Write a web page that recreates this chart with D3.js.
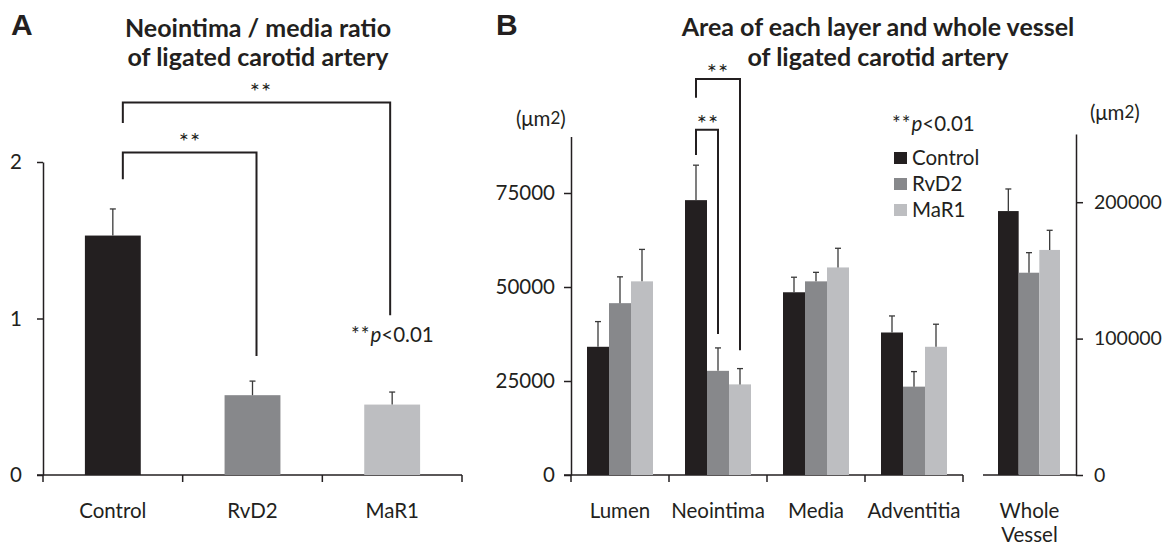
<!DOCTYPE html>
<html>
<head>
<meta charset="utf-8">
<script src="https://cdn.jsdelivr.net/npm/d3@7"></script>
<style>
body { margin: 0; background: #fff; }
svg text { font-family: Lato, "Open Sans", sans-serif; fill: #231f20; }
.panel-letter { font-family: "Liberation Sans", Arial, sans-serif; font-weight: bold; font-size: 30px; }
.title { font-weight: bold; font-size: 25px; }
.lbl { font-size: 20.5px; }
</style>
</head>
<body>
<svg id="chart" width="1163" height="547"></svg>
<script>
// data -- panel A
var ratio_groups = ["Control", "RvD2", "MaR1"];
var ratio_mean = [1.53, 0.51, 0.45];
var ratio_err = [0.17, 0.09, 0.08];
var ratio_ticks = [0, 1, 2];

// data -- panel B
var layers = ["Lumen", "Neointima", "Media", "Adventitia"];
var series = ["Control", "RvD2", "MaR1"];
var control_area = [34100, 73100, 48600, 37900];
var rvd2_area = [45700, 27700, 51500, 23500];
var mar1_area = [51500, 24100, 55200, 34100];
var control_err = [6700, 9300, 4000, 4400];
var rvd2_err = [7000, 6100, 2400, 4000];
var mar1_err = [8500, 4200, 5100, 6000];
var layer_ticks = [0, 25000, 50000, 75000];

var vessel_mean = [193500, 148300, 165000];
var vessel_err = [16200, 14700, 14400];
var vessel_ticks = [0, 100000, 200000];

var COLORS = ["#231f20", "#87888b", "#bdbec1"];
var INK = "#231f20";
var fmt = d3.format("d");

var svg = d3.select("#chart");

function err_bar(g, cx, y_top, y_err)
{
	g.append("line").attr("x1", cx).attr("x2", cx).attr("y1", y_top).attr("y2", y_err)
		.attr("stroke", "#3a3a3a").attr("stroke-width", 1.3);
	g.append("line").attr("x1", cx - 3).attr("x2", cx + 3).attr("y1", y_err).attr("y2", y_err)
		.attr("stroke", "#3a3a3a").attr("stroke-width", 1.3);
}

function stars(g, x, y)
{
	g.append("text").attr("class", "lbl").attr("x", x).attr("y", y)
		.attr("text-anchor", "middle").style("font-size", "24px").style("letter-spacing", "1px")
		.text("**");
}

function p_note(g, x, y)
{
	var t = g.append("text").attr("class", "lbl").attr("x", x).attr("y", y);
	t.append("tspan").style("letter-spacing", "1px").text("**");
	t.append("tspan").style("font-style", "italic").text("p");
	t.append("tspan").text("<0.01");
}

function bracket(g, x1, x2, y, y1_end, y2_end)
{
	g.append("path")
		.attr("d", "M" + x1 + "," + y1_end + "V" + y + "H" + x2 + "V" + y2_end)
		.attr("fill", "none").attr("stroke", INK).attr("stroke-width", 2);
}

function style_axis(ax)
{
	ax.select(".domain").attr("stroke", INK).attr("stroke-width", 1.5);
	ax.selectAll(".tick line").attr("stroke", INK).attr("stroke-width", 1.5);
	ax.selectAll("text").attr("class", "lbl").attr("fill", INK);
	ax.attr("font-family", null).attr("font-size", null);
}

function unit_label(g, x, y)
{
	var t = g.append("text").attr("class", "lbl").attr("x", x).attr("y", y);
	t.append("tspan").text("(\u03bcm");
	t.append("tspan").attr("dy", -2).style("font-size", "17px").text("2");
	t.append("tspan").attr("dy", 2).text(")");
}

// ---------- panel A ----------
var gA = svg.append("g");
var yA = d3.scaleLinear().domain([0, 2]).range([475, 162]);
var xA = d3.scaleBand().domain(ratio_groups).range([43, 462]).paddingInner(0.6).paddingOuter(0.3);

gA.append("text").attr("class", "panel-letter").attr("x", 11).attr("y", 35).text("A");
gA.append("text").attr("class", "title").attr("x", 258).attr("y", 37).attr("text-anchor", "middle").text("Neointima / media ratio");
gA.append("text").attr("class", "title").attr("x", 258).attr("y", 66).attr("text-anchor", "middle").text("of ligated carotid artery");

var axA = gA.append("g").attr("transform", "translate(43,0)")
	.call(d3.axisLeft(yA).tickValues(ratio_ticks).tickFormat(fmt).tickSize(6).tickSizeOuter(0).tickPadding(15));
style_axis(axA);

// x axis with separators between groups
var stepA = xA.step();
gA.append("line").attr("x1", 37).attr("x2", 462).attr("y1", 475).attr("y2", 475).attr("stroke", INK).attr("stroke-width", 1.5);
gA.selectAll(".sep").data(d3.range(ratio_groups.length + 1)).enter().append("line")
	.attr("x1", function(i){ return 43 + i * stepA; })
	.attr("x2", function(i){ return 43 + i * stepA; })
	.attr("y1", 475).attr("y2", 482).attr("stroke", INK).attr("stroke-width", 1.5);

gA.selectAll(".bar").data(ratio_groups).enter().append("rect")
	.attr("x", function(d){ return xA(d); })
	.attr("width", xA.bandwidth())
	.attr("y", function(d, i){ return yA(ratio_mean[i]); })
	.attr("height", function(d, i){ return yA(0) - yA(ratio_mean[i]); })
	.attr("fill", function(d, i){ return COLORS[i]; });
ratio_groups.forEach(function(d, i){
	err_bar(gA, xA(d) + xA.bandwidth() / 2, yA(ratio_mean[i]), yA(ratio_mean[i] + ratio_err[i]));
});
gA.selectAll(".cat").data(ratio_groups).enter().append("text")
	.attr("class", "lbl").attr("text-anchor", "middle")
	.attr("x", function(d){ return xA(d) + xA.bandwidth() / 2; })
	.attr("y", 518).text(function(d){ return d; });

var cxA = function(d){ return xA(d) + xA.bandwidth() / 2; };
bracket(gA, cxA("Control") + 10, cxA("MaR1") - 2, yA(2.38), yA(2.25), yA(1.02));
stars(gA, 261, 100);
bracket(gA, cxA("Control") + 10, cxA("RvD2") + 4, yA(2.06), yA(1.89), yA(0.76));
stars(gA, 190, 150);
p_note(gA, 351, 342);

// ---------- panel B ----------
var gB = svg.append("g");
var yB = d3.scaleLinear().domain([0, 90000]).range([475, 136.6]);
var xB = d3.scaleBand().domain(layers).range([571, 963]);
var xS = d3.scaleBand().domain(series).range([16, 82]);
var layer_vals = [control_area, rvd2_area, mar1_area];
var layer_errs = [control_err, rvd2_err, mar1_err];

gB.append("text").attr("class", "panel-letter").attr("x", 496).attr("y", 35).text("B");
gB.append("text").attr("class", "title").attr("x", 878).attr("y", 36).attr("text-anchor", "middle").text("Area of each layer and whole vessel");
gB.append("text").attr("class", "title").attr("x", 878).attr("y", 66).attr("text-anchor", "middle").text("of ligated carotid artery");

unit_label(gB, 516, 126);

var axB = gB.append("g").attr("transform", "translate(571,0)")
	.call(d3.axisLeft(yB).tickValues(layer_ticks).tickFormat(fmt).tickSize(7).tickSizeOuter(0).tickPadding(9));
style_axis(axB);

gB.append("line").attr("x1", 564).attr("x2", 963).attr("y1", 475).attr("y2", 475).attr("stroke", INK).attr("stroke-width", 1.5);
gB.selectAll(".sep").data(d3.range(layers.length + 1)).enter().append("line")
	.attr("x1", function(i){ return 571 + i * xB.step(); })
	.attr("x2", function(i){ return 571 + i * xB.step(); })
	.attr("y1", 475).attr("y2", 482).attr("stroke", INK).attr("stroke-width", 1.5);

var groups = gB.selectAll(".grp").data(layers).enter().append("g")
	.attr("transform", function(d){ return "translate(" + xB(d) + ",0)"; });
series.forEach(function(s, si){
	groups.append("rect")
		.attr("x", xS(s)).attr("width", xS.bandwidth())
		.attr("y", function(d, li){ return yB(layer_vals[si][li]); })
		.attr("height", function(d, li){ return yB(0) - yB(layer_vals[si][li]); })
		.attr("fill", COLORS[si]);
});
layers.forEach(function(l, li){
	series.forEach(function(s, si){
		err_bar(gB, xB(l) + xS(s) + xS.bandwidth() / 2, yB(layer_vals[si][li]), yB(layer_vals[si][li] + layer_errs[si][li]));
	});
});
gB.selectAll(".cat").data(layers).enter().append("text")
	.attr("class", "lbl").attr("text-anchor", "middle")
	.attr("x", function(d){ return xB(d) + xB.bandwidth() / 2; })
	.attr("y", 518).text(function(d){ return d; });

var cxB = function(l, s){ return xB(l) + xS(s) + xS.bandwidth() / 2; };
bracket(gB, cxB("Neointima", "Control"), cxB("Neointima", "MaR1"), yB(105300), yB(100300), yB(33200));
stars(gB, 718, 81);
bracket(gB, cxB("Neointima", "Control"), cxB("Neointima", "RvD2"), yB(91800), yB(85100), yB(37500));
stars(gB, 708, 132);

// legend
p_note(gB, 892, 131);
var leg = gB.selectAll(".leg").data(series).enter().append("g")
	.attr("transform", function(d, i){ return "translate(894," + (152 + i * 26) + ")"; });
leg.append("rect").attr("width", 13).attr("height", 12).attr("fill", function(d, i){ return COLORS[i]; });
leg.append("text").attr("class", "lbl").attr("x", 18).attr("y", 13).text(function(d){ return d; });

// whole vessel on its own right axis
var yW = d3.scaleLinear().domain([0, 250000]).range([475, 134]);
var xW = d3.scaleBand().domain(["Whole Vessel"]).range([983, 1076]);
var xWS = d3.scaleBand().domain(series).range([15, 77]);

gB.append("line").attr("x1", 983).attr("x2", 1076).attr("y1", 475).attr("y2", 475).attr("stroke", INK).attr("stroke-width", 1.5);
var axW = gB.append("g").attr("transform", "translate(1076,0)")
	.call(d3.axisRight(yW).tickValues(vessel_ticks).tickFormat(fmt).tickSize(7).tickSizeOuter(0).tickPadding(11));
style_axis(axW);
axW.selectAll("text").style("font-size", "19.5px");

unit_label(gB, 1090, 120);

gB.selectAll(".wbar").data(series).enter().append("rect")
	.attr("x", function(s){ return xW("Whole Vessel") + xWS(s); })
	.attr("width", xWS.bandwidth())
	.attr("y", function(s, i){ return yW(vessel_mean[i]); })
	.attr("height", function(s, i){ return yW(0) - yW(vessel_mean[i]); })
	.attr("fill", function(s, i){ return COLORS[i]; });
series.forEach(function(s, i){
	err_bar(gB, xW("Whole Vessel") + xWS(s) + xWS.bandwidth() / 2, yW(vessel_mean[i]), yW(vessel_mean[i] + vessel_err[i]));
});
var wx = xW("Whole Vessel") + xW.bandwidth() / 2;
gB.append("text").attr("class", "lbl").attr("text-anchor", "middle").attr("x", wx).attr("y", 518).text("Whole");
gB.append("text").attr("class", "lbl").attr("text-anchor", "middle").attr("x", wx).attr("y", 542).text("Vessel");
</script>
</body>
</html>
